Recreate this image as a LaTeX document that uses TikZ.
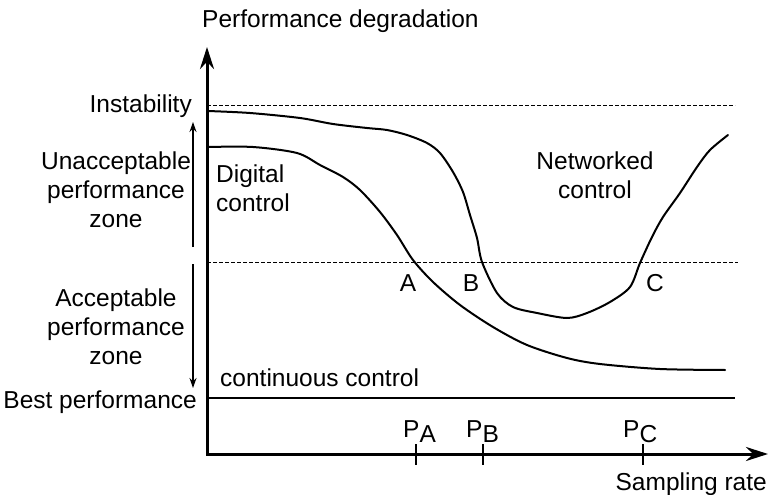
\documentclass[tikz,border=0pt]{standalone}
\usepackage{fontspec}
\setmainfont{Liberation Sans}
\usetikzlibrary{arrows.meta,positioning}

\begin{document}
\begin{tikzpicture}[x=1pt,y=-1pt,>={Stealth[length=22pt,width=14pt]},
  font=\fontsize{24.5}{29}\selectfont,
  axis/.style={line width=3pt,line join=miter,<->},
  zone/.style={line width=1.3pt,-{Stealth[length=10pt,width=7pt]}},
  level/.style={line width=0.9pt,dash pattern=on 4pt off 2pt},
  curve/.style={line width=2pt,line join=round,line cap=round},
  lbl/.style={inner sep=0pt}]

\useasboundingbox (0,0) rectangle (772,495);

% axes
\coordinate (O)    at (207,454);
\coordinate (ytop) at (207,47);
\coordinate (xend) at (768,454);
\draw[axis] (ytop) -- (O) -- (xend);

\node[lbl,anchor=base west] (ylabel) at (202,28)  {Performance degradation};
\node[lbl,anchor=base east] (xlabel) at (767,490) {Sampling rate};

% levels
\coordinate (inst0) at (207,105);  \coordinate (inst1) at (735,105);
\coordinate (acc0)  at (207,262);  \coordinate (acc1)  at (738,262);
\coordinate (best0) at (207,398);  \coordinate (best1) at (735,398);
\draw[level] (inst0) -- (inst1);
\draw[level] (acc0) -- (acc1);
\draw[line width=1.3pt] (best0) -- (best1);

\node[lbl,anchor=base east] (instab) at (192,113) {Instability};
\node[lbl,anchor=base east] (best)   at (197,408) {Best performance};
\node[lbl,anchor=base west] (cont)   at (220,386) {continuous control};

% zones
\coordinate (u0) at (193,247); \coordinate (u1) at (193,122);
\coordinate (a0) at (193,264); \coordinate (a1) at (193,388);
\draw[zone] (u0) -- (u1);
\draw[zone] (a0) -- (a1);
\node[lbl,align=center,anchor=north] (unacc) at (116,152) {Unacceptable\\performance\\zone};
\node[lbl,align=center,anchor=north] (acc)   at (116,289) {Acceptable\\performance\\zone};

% digital control
\draw[curve] plot[smooth,tension=0.5] coordinates {(208,147) (253,147) (297,153) (320,165)
  (343,177) (360,190) (380,212) (397,235) (413,260) (433,282) (460,305) (493,327)
  (527,345) (567,358) (600,364) (660,369) (725,370)};
\node[lbl,align=left,anchor=north west] (dig) at (216,165) {Digital\\control};

% networked control
\draw[curve] plot[smooth,tension=0.5] coordinates {(208,111) (250,113) (300,118) (333,124)
  (367,128) (387,130) (407,135) (427,143) (440,153) (453,172) (463,192) (470,215)
  (477,238) (482,262) (497,293) (513,307) (537,313) (567,318) (587,313) (610,302)
  (630,287) (640,263) (652,237) (663,217) (680,193) (697,167) (710,150) (728,135)};
\node[lbl,align=center,anchor=north] (net) at (595,152) {Networked\\control};

\node[lbl,anchor=base] (A) at (408,291) {A};
\node[lbl,anchor=base] (B) at (471,291) {B};
\node[lbl,anchor=base] (C) at (655,291) {C};

% sampling points
\foreach \x/\n in {416/A,483/B,643/C}
  \draw[line width=1.3pt] (\x,444) -- (\x,465);
\node[lbl,anchor=base west] (pA) at (403,437) {P\raisebox{-5pt}{A}};
\node[lbl,anchor=base west] (pB) at (466,437) {P\raisebox{-5pt}{B}};
\node[lbl,anchor=base west] (pC) at (623,437) {P\raisebox{-5pt}{C}};

\end{tikzpicture}
\end{document}
